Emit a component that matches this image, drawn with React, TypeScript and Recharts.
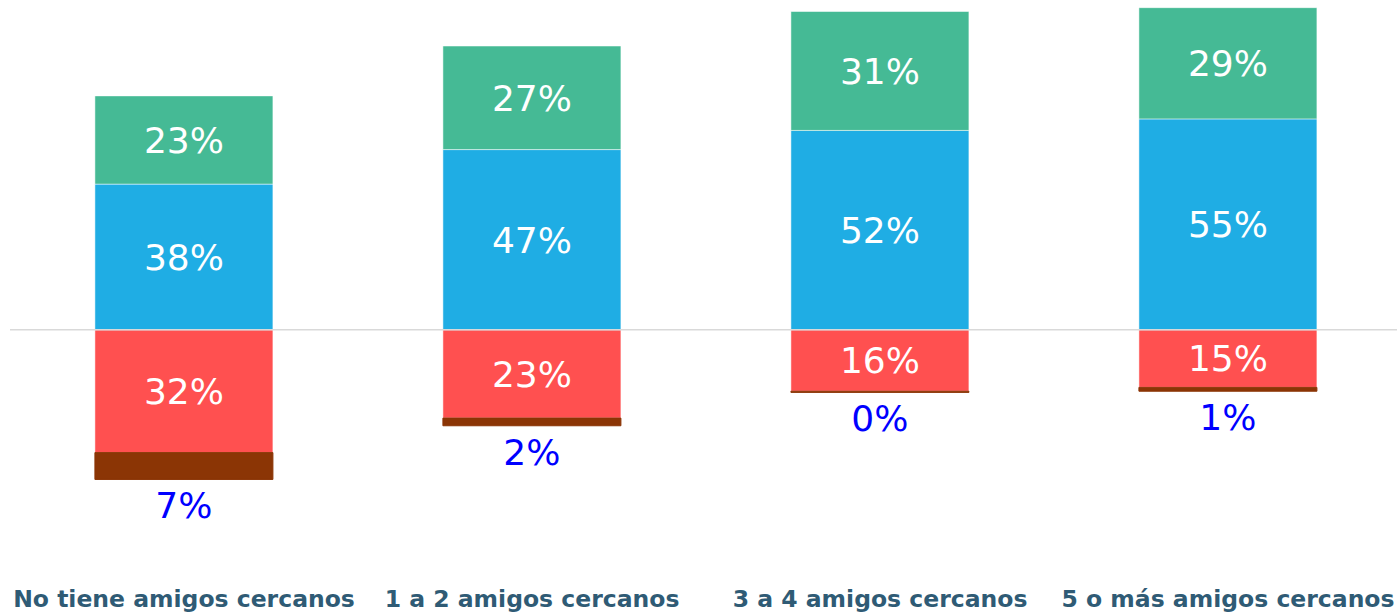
import { BarChart, Bar, XAxis, YAxis, LabelList, ReferenceLine } from 'recharts'

const categories = [
  'No tiene amigos cercanos',
  '1 a 2 amigos cercanos',
  '3 a 4 amigos cercanos',
  '5 o más amigos cercanos',
]
// positive side
const blueValues = [38, 47, 52, 55]
const greenValues = [23, 27, 31, 29]
// negative side (stored as positive %)
const redValues = [32, 23, 16, 15]
const brownValues = [7, 2, 0.3, 1]

const data = categories.map((name, i) => ({
  name,
  blue: blueValues[i],
  green: greenValues[i],
  red: -redValues[i],
  brown: -brownValues[i],
}))

const pct = (v: any) => `${Math.round(Math.abs(Number(v)))}%`

const labelFont = { fontSize: 36, fill: '#ffffff', fontFamily: 'DejaVu Sans' }

// value under the brown segment, in blue
const BelowLabel = (props: any) => {
  const { x, y, width, height, value } = props
  const bottom = Math.max(Number(y), Number(y) + Number(height))
  return (
    <text
      x={Number(x) + Number(width) / 2}
      y={bottom + 39}
      textAnchor="middle"
      fill="#0000ff"
      fontSize={36}
      fontFamily="DejaVu Sans"
    >
      {pct(value)}
    </text>
  )
}

export default function App() {
  return (
    <div
      style={{
        position: 'absolute',
        left: 0,
        top: 0,
        width: 1397,
        height: 613,
        overflow: 'hidden',
        background: '#fff',
        fontFamily: 'DejaVu Sans',
      }}
    >
      <BarChart
        width={1397}
        height={613}
        data={data}
        stackOffset="sign"
        barCategoryGap="24.4%"
        margin={{ top: 0, right: -5, bottom: 0, left: 10 }}
      >
        <XAxis
          dataKey="name"
          axisLine={false}
          tickLine={false}
          interval={0}
          height={53}
          tickMargin={24}
          tick={{ fontSize: 23.5, fontWeight: 'bold', fill: '#2f5b75', fontFamily: 'DejaVu Sans' }}
        />
        <YAxis hide type="number" domain={[-60, 86]} allowDataOverflow />
        <Bar dataKey="blue" stackId="a" fill="#1fade4" stroke="#ffffff" strokeOpacity={0.5} isAnimationActive={false}>
          <LabelList dataKey="blue" position="center" formatter={pct} style={labelFont} />
        </Bar>
        <Bar dataKey="green" stackId="a" fill="#45ba95" stroke="#ffffff" strokeOpacity={0.5} isAnimationActive={false}>
          <LabelList dataKey="green" position="center" formatter={pct} style={labelFont} />
        </Bar>
        <Bar dataKey="red" stackId="a" fill="#ff5050" stroke="#ffffff" strokeOpacity={0.5} isAnimationActive={false}>
          <LabelList dataKey="red" position="center" formatter={pct} style={labelFont} />
        </Bar>
        <Bar dataKey="brown" stackId="a" fill="#8b3505" stroke="#8b3505" isAnimationActive={false}>
          <LabelList dataKey="brown" content={BelowLabel} />
        </Bar>
        <ReferenceLine y={0} stroke="#d9d9d9" strokeWidth={1.5} />
      </BarChart>
    </div>
  )
}
